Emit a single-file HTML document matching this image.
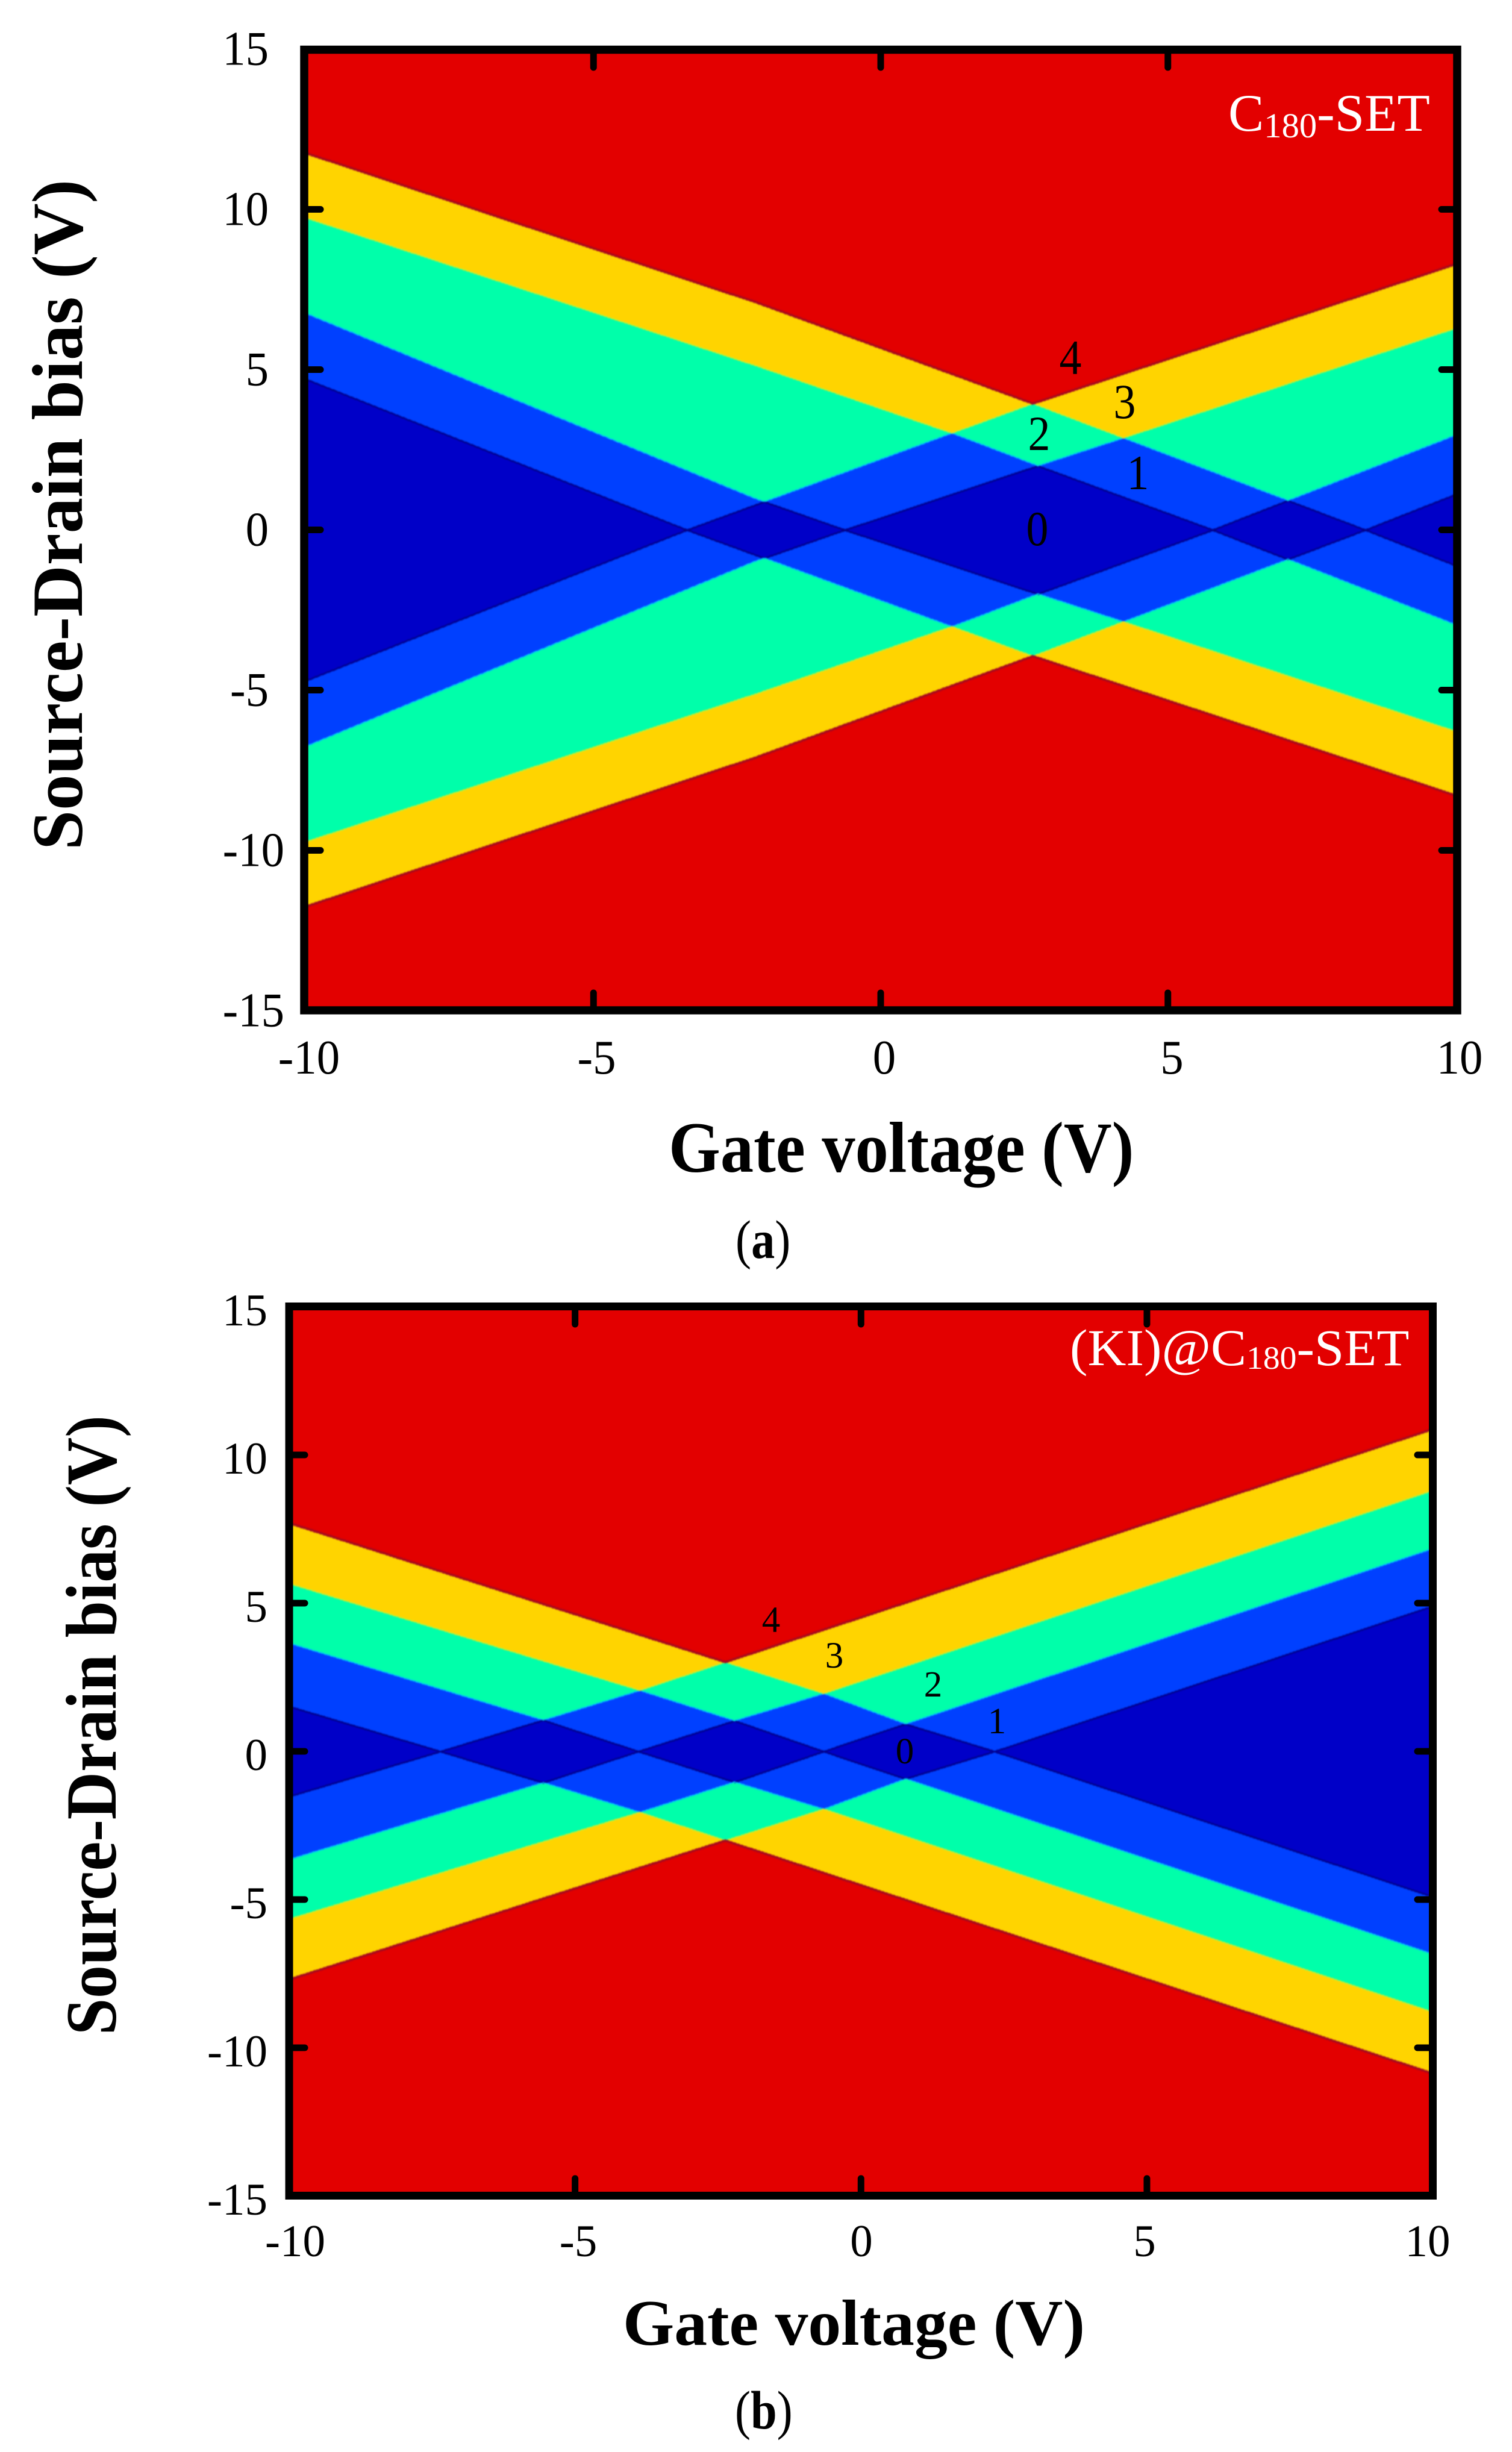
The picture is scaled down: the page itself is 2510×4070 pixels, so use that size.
<!DOCTYPE html>
<html lang="en">
<head>
<meta charset="utf-8">
<title>Source-Drain bias vs Gate voltage stability diagrams</title>
<style>
html,body{margin:0;padding:0;background:#fff;}
svg{display:block;}
text{font-family:"Liberation Serif",serif;fill:#000;}
</style>
</head>
<body>
<svg xmlns="http://www.w3.org/2000/svg" width="2510" height="4070" viewBox="0 0 2510 4070">
  <defs>
    <filter id="soft-edge" x="0" y="0" width="2510" height="4070" filterUnits="userSpaceOnUse" color-interpolation-filters="sRGB">
      <feGaussianBlur stdDeviation="1"/>
    </filter>
  </defs>
  <rect x="0" y="0" width="2510" height="4070" fill="#fff"/>

  <g id="panel-a">
    <g id="panel-a-marks" filter="url(#soft-edge)"></g>
    <rect x="505" y="82.5" width="1914" height="1594.5" fill="none" stroke="#000" stroke-width="13.5"/>
    <g id="panel-a-axes"></g>
    <text transform="translate(1110 1945) scale(.92 1)" font-size="120" font-weight="bold">Gate voltage (V)</text>
    <text transform="translate(136 1411) rotate(-90) scale(.99 1)" font-size="120" font-weight="bold">Source-Drain bias (V)</text>
    <text transform="translate(2039 217) scale(1.01 1)" font-size="88" style="fill:#fff">C<tspan font-size="58" dy="11" style="fill:#fff">180</tspan><tspan dy="-11" style="fill:#fff">-SET</tspan></text>
    <g font-size="82" text-anchor="middle">
      <text transform="translate(1777 621) scale(.9 1)">4</text>
      <text transform="translate(1867 694) scale(.9 1)">3</text>
      <text transform="translate(1725 747) scale(.9 1)">2</text>
      <text transform="translate(1889 812) scale(.9 1)">1</text>
      <text transform="translate(1722 905) scale(.9 1)">0</text>
    </g>
    <text transform="translate(1221 2088) scale(.87 1)" font-size="90">(<tspan font-weight="bold">a</tspan>)</text>
  </g>

  <g id="panel-b">
    <g id="panel-b-marks" filter="url(#soft-edge)"></g>
    <rect x="480" y="2168.5" width="1898.5" height="1476" fill="none" stroke="#000" stroke-width="13"/>
    <g id="panel-b-axes"></g>
    <text transform="translate(1034 3892) scale(1.015 1)" font-size="108" font-weight="bold">Gate voltage (V)</text>
    <text transform="translate(192 3378) rotate(-90) scale(.915 1)" font-size="120" font-weight="bold">Source-Drain bias (V)</text>
    <text transform="translate(1776 2266) scale(1.03 1)" font-size="86" style="fill:#fff">(KI)@C<tspan font-size="54" dy="6" style="fill:#fff">180</tspan><tspan dy="-6" style="fill:#fff">-SET</tspan></text>
    <g font-size="61" text-anchor="middle">
      <text x="1280" y="2709">4</text>
      <text x="1385" y="2768">3</text>
      <text x="1549" y="2816">2</text>
      <text x="1655" y="2877">1</text>
      <text x="1502" y="2927">0</text>
    </g>
    <text transform="translate(1220 4031) scale(.87 1)" font-size="90">(<tspan font-weight="bold">b</tspan>)</text>
  </g>
</svg>

<script>
// Tick values and labels
const xTickValues = [-5, 0, 5];
const yTickValues = [10, 5, 0, -5, -10];
const xTickLabels = [-10, -5, 0, 5, 10];
const yTickLabels = [15, 10, 5, 0, -5, -10, -15];

// Panel (a): ascending tunnelling thresholds, gate voltage (V) -> bias (V)
const aGate1 = [-10, -3.37, 2.65, 10];
const aBias1 = [-4.7, 0, 3.94, 8.28];
const aGate2 = [-10, -2.17, -0.62, 2.74, 4.2, 10];
const aBias2 = [-6.75, -0.97, 0, 2.0, 2.85, 6.28];
const aGate3 = [-10, -2.17, 1.27, 2.74, 5.71, 10];
const aBias3 = [-9.73, -5.12, -3.0, -2.0, -0.05, 2.95];
const aGate4 = [-10, -2.17, 2.65, 8.4, 10];
const aBias4 = [-11.75, -7.1, -3.94, -0.03, 1.1];

// Panel (b): ascending tunnelling thresholds, gate voltage (V) -> bias (V)
const bGate1 = [-10, -7.35, -5.58, -3.89, -2.37, 10];
const bBias1 = [-1.52, 0, 1.04, 2.04, 3.01, 10.87];
const bGate2 = [-10, -5.58, -3.89, -2.2, -0.65, 10];
const bBias2 = [-3.65, -1.07, 0, 1.04, 1.95, 8.8];
const bGate3 = [-10, -3.89, -2.2, -0.65, 0.82, 10];
const bBias3 = [-5.66, -2.07, -1.03, 0, 0.95, 6.84];
const bGate4 = [-10, -2.37, -0.65, 0.82, 2.34, 10];
const bBias4 = [-7.7, -3.01, -1.95, -0.9, 0, 4.9];

// Colour per contour level, 0 = innermost blockade, 4 = outermost
const levelColors = ['#0000c8', '#0040ff', '#00ffaa', '#ffd400', '#e30000'];
const edgeColors = [null, '#00008c', '#00c4ff', '#c8ee30', '#a5081e'];
const edgeWidths = [0, 3, 2, 2, 4];

const SVG_NS = 'http://www.w3.org/2000/svg';

function interpolate(gates, biases, g) {
  let i = 0;
  while (i < gates.length - 2 && g > gates[i + 1]) i++;
  const t = (g - gates[i]) / (gates[i + 1] - gates[i]);
  return biases[i] + t * (biases[i + 1] - biases[i]);
}

function drawBands(cfg) {
  const host = document.getElementById(cfg.id + '-marks');
  const xScale = v => cfg.x0 + cfg.xUnit * v;
  const yScale = v => cfg.y0 - cfg.yUnit * v;
  const xInvert = px => (px - cfg.x0) / cfg.xUnit;
  const step = 2;
  const bandData = ['', '', '', '', ''];
  const edgeData = ['', '', '', '', ''];
  for (let px = cfg.left - 3; px < cfg.right + 3; px += step) {
    const g = xInvert(px + step / 2);
    const crossings = [];
    cfg.lines.forEach(line => {
      const b = interpolate(line[0], line[1], g);
      crossings.push(b);
      crossings.push(-b);
    });
    crossings.sort((p, q) => q - p);
    let sum = 8;
    let prev = cfg.top - 3;
    const floor = cfg.bottom + 3;
    crossings.forEach(b => {
      const py = Math.max(cfg.top - 3, Math.min(floor, Math.round(yScale(b))));
      const level = Math.abs(sum - 4);
      if (py > prev) bandData[level] += 'M' + px + ' ' + prev + 'h' + step + 'V' + py + 'H' + px + 'z';
      sum -= 1;
      const nextLevel = Math.abs(sum - 4);
      if (py > cfg.top && py < cfg.bottom) {
        const edge = Math.max(level, nextLevel);
        const w = edgeWidths[edge];
        edgeData[edge] += 'M' + px + ' ' + (py - Math.floor(w / 2)) + 'h' + step + 'v' + w + 'h-' + step + 'z';
      }
      prev = Math.max(prev, py);
    });
    const last = Math.abs(sum - 4);
    if (floor > prev) bandData[last] += 'M' + px + ' ' + prev + 'h' + step + 'V' + floor + 'H' + px + 'z';
  }
  bandData.forEach((d, level) => {
    const el = document.createElementNS(SVG_NS, 'path');
    el.setAttribute('d', d);
    el.setAttribute('fill', levelColors[level]);
    el.setAttribute('shape-rendering', 'crispEdges');
    
    
    host.appendChild(el);
  });
  edgeData.forEach((d, level) => {
    if (!d) return;
    const el = document.createElementNS(SVG_NS, 'path');
    el.setAttribute('d', d);
    el.setAttribute('fill', edgeColors[level]);
    el.setAttribute('shape-rendering', 'crispEdges');
    
    
    host.appendChild(el);
  });
  drawAxes(cfg, xScale, yScale);
}

function addTick(host, cfg, x1, y1, x2, y2, name) {
  const el = document.createElementNS(SVG_NS, 'line');
  el.setAttribute('x1', x1);
  el.setAttribute('y1', y1);
  el.setAttribute('x2', x2);
  el.setAttribute('y2', y2);
  el.setAttribute('stroke', '#000');
  el.setAttribute('stroke-width', 11);
  el.setAttribute('stroke-linecap', 'round');
  
  
  host.appendChild(el);
}

function addTickLabel(host, cfg, x, y, value, anchor, name) {
  const el = document.createElementNS(SVG_NS, 'text');
  el.setAttribute('transform', 'translate(' + x + ' ' + y + ') scale(' + cfg.labelScale + ' 1)');
  el.setAttribute('font-size', cfg.labelSize);
  el.setAttribute('text-anchor', anchor);
  el.textContent = String(value);
  
  
  host.appendChild(el);
}

function drawAxes(cfg, xScale, yScale) {
  const host = document.getElementById(cfg.id + '-axes');
  xTickValues.forEach(v => {
    const x = xScale(v);
    addTick(host, cfg, x, cfg.top, x, cfg.top + cfg.tickLen, cfg.id + '-top-tick');
    addTick(host, cfg, x, cfg.bottom, x, cfg.bottom - cfg.tickLen, cfg.id + '-bottom-tick');
  });
  yTickValues.forEach(v => {
    const y = yScale(v);
    addTick(host, cfg, cfg.left, y, cfg.left + cfg.tickLen - 3, y, cfg.id + '-left-tick');
    addTick(host, cfg, cfg.right, y, cfg.right - cfg.tickLen + 3, y, cfg.id + '-right-tick');
  });
  xTickLabels.forEach(v => {
    addTickLabel(host, cfg, cfg.xLabelCenter + cfg.xLabelUnit * v, cfg.xLabelBaseline, v, 'middle', cfg.id + '-x-tick-label');
  });
  yTickLabels.forEach(v => {
    const right = v < -5 ? cfg.yLabelRightWide : cfg.yLabelRight;
    addTickLabel(host, cfg, right, yScale(v) + cfg.yLabelDrop, v, 'end', cfg.id + '-y-tick-label');
  });
}

drawBands({
  id: 'panel-a',
  lines: [[aGate1, aBias1], [aGate2, aBias2], [aGate3, aBias3], [aGate4, aBias4]],
  x0: 1462, xUnit: 95.35, y0: 879.5, yUnit: 53.2,
  left: 512, right: 2413, top: 89, bottom: 1671,
  tickLen: 23, labelSize: 80, labelScale: 0.96,
  xLabelCenter: 1468, xLabelUnit: 95.5, xLabelBaseline: 1782,
  yLabelRight: 446, yLabelRightWide: 472, yLabelDrop: 26
});

drawBands({
  id: 'panel-b',
  lines: [[bGate1, bBias1], [bGate2, bBias2], [bGate3, bBias3], [bGate4, bBias4]],
  x0: 1429.3, xUnit: 94.93, y0: 2907, yUnit: 49.2,
  left: 486, right: 2373, top: 2175, bottom: 3639,
  tickLen: 23, labelSize: 75, labelScale: 1.0,
  xLabelCenter: 1430, xLabelUnit: 94, xLabelBaseline: 3745,
  yLabelRight: 444, yLabelRightWide: 444, yLabelDrop: 31
});
</script>
</body>
</html>
